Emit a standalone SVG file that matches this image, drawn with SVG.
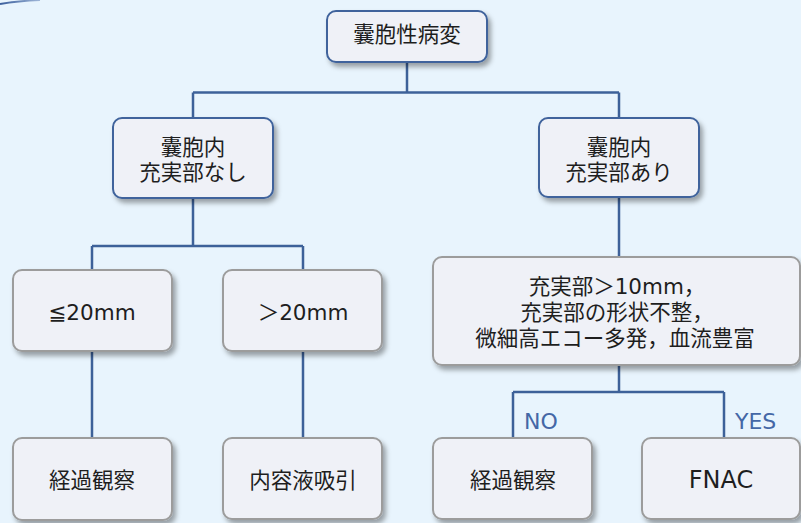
<svg xmlns="http://www.w3.org/2000/svg" width="801" height="523" viewBox="0 0 801 523">
<defs>
<filter id="sh" x="-10%" y="-10%" width="130%" height="140%">
<feDropShadow dx="3" dy="4" stdDeviation="2.5" flood-color="#000" flood-opacity="0.35"/>
</filter>
<linearGradient id="arc" x1="0" y1="0" x2="1" y2="0">
<stop offset="0" stop-color="#3a5e9c"/>
<stop offset="1" stop-color="#9fb6d8"/>
</linearGradient>
</defs>
<style>
.n rect{fill:#eff1f7;filter:url(#sh)}
.b rect{stroke:#40639c;stroke-width:2}
.g rect{stroke:#9c9c9c;stroke-width:2}
text{font-family:"DejaVu Sans","Noto Sans CJK JP",sans-serif;font-size:21.5px;fill:#1e1e1e;text-anchor:middle}
.lab{fill:#4467a6;font-size:22px;text-anchor:start}
.big{font-size:24px}
.c path{fill:none;stroke:#3d6199;stroke-width:2.5}
</style>
<rect width="801" height="523" fill="#e8f4fd"/>
<path d="M0,4 Q18,1 40,0" fill="none" stroke="url(#arc)" stroke-width="2"/>
<g class="c" id="connectors">
<path d="M407,62 V92.5 M193,92.5 H619 M193,92.5 V118 M619,92.5 V118"/>
<path d="M193,198 V246 M92,246 H303 M92,246 V270 M303,246 V270"/>
<path d="M92,351 V438 M303,351 V438"/>
<path d="M619,198 V257"/>
<path d="M619,365 V392 M513,392 H724 M513,392 V438 M724,392 V438"/>
</g>
<g id="n1" class="n b"><rect x="327" y="11" width="160" height="51" rx="9"/><text x="407" y="41.5">囊胞性病変</text></g>
<g id="n2" class="n b"><rect x="113" y="118" width="160" height="80" rx="9"/><text x="193" y="155">囊胞内</text><text x="193" y="180">充実部なし</text></g>
<g id="n3" class="n b"><rect x="539" y="118" width="160" height="79" rx="9"/><text x="619" y="155">囊胞内</text><text x="619" y="180">充実部あり</text></g>
<g id="n4" class="n g"><rect x="13" y="270" width="159" height="81" rx="9"/><text x="92" y="320">≦20mm</text></g>
<g id="n5" class="n g"><rect x="223" y="270" width="159" height="81" rx="9"/><text x="303" y="320">＞20mm</text></g>
<g id="n6" class="n g"><rect x="433" y="257" width="367" height="108" rx="9"/><text x="617" y="293.5">充実部＞10mm，</text><text x="617" y="320">充実部の形状不整，</text><text x="615" y="346">微細高エコー多発，血流豊富</text></g>
<g id="n7" class="n g"><rect x="13" y="438" width="159" height="82" rx="9"/><text x="92" y="488">経過観察</text></g>
<g id="n8" class="n g"><rect x="223" y="438" width="159" height="81" rx="9"/><text x="303" y="488">内容液吸引</text></g>
<g id="n9" class="n g"><rect x="433" y="438" width="159" height="81" rx="9"/><text x="513" y="488">経過観察</text></g>
<g id="n10" class="n g"><rect x="642" y="438" width="158" height="81" rx="9"/><text class="big" x="721" y="488">FNAC</text></g>
<text class="lab" x="524" y="429">NO</text>
<text class="lab" x="735" y="429">YES</text>
</svg>
